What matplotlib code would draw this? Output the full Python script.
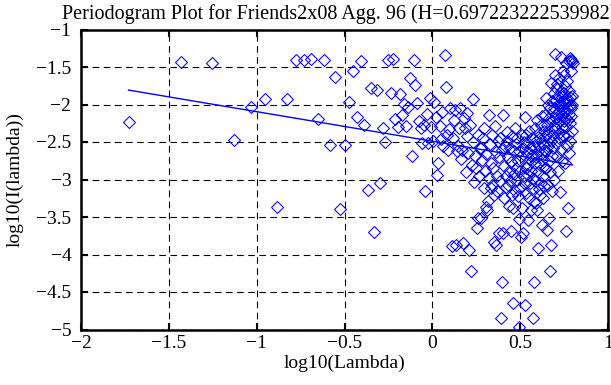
import numpy as np
import matplotlib
matplotlib.use("Agg")
import matplotlib.pyplot as plt

# ---- data ----
n_series = 337                      # series length parameter (lambda_k = 2*pi*k/n)
freq_index = np.arange(1, 338)       # Fourier frequency indices k

log_I = [
    -2.23, -1.43, -1.44, -2.47, -2.03, -1.93, -3.37, -1.92, -1.41, -1.41,
    -1.39, -2.19, -1.41, -2.54, -1.63, -3.39, -2.54, -1.96, -1.55, -2.17,
    -1.42, -2.27, -3.14, -1.78, -3.70, -1.80, -3.04, -2.31, -2.50, -1.40,
    -1.84, -1.39, -2.19, -2.30, -1.86, -2.14, -1.99, -2.29, -2.03, -1.65,
    -2.69, -1.41, -1.74, -1.98, -2.22, -2.31, -2.51, -2.27, -3.15, -2.12,
    -2.51, -1.91, -2.30, -2.48, -1.96, -2.16, -2.94, -2.78, -2.29, -2.46,
    -2.10, -2.55, -1.34, -1.77, -2.40, -2.60, -2.33, -2.05, -3.89, -2.45,
    -2.20, -2.07, -3.87, -2.62, -2.55, -2.31, -2.05, -2.72, -2.60, -3.85,
    -2.18, -2.31, -2.90, -2.11, -2.42, -2.65, -3.94, -2.28, -4.22, -2.80,
    -2.50, -1.93, -3.03, -2.68, -2.85, -3.65, -2.40, -3.51, -2.95, -2.58,
    -2.58, -3.51, -2.74, -2.45, -3.11, -2.31, -2.89, -3.36, -2.66, -3.40,
    -3.29, -2.14, -2.98, -2.52, -3.11, -2.78, -2.40, -3.07, -2.85, -3.20,
    -3.83, -2.29, -3.87, -2.63, -2.95, -3.15, -2.48, -3.71, -2.70, -3.02,
    -2.45, -4.84, -2.60, -4.36, -3.71, -2.14, -2.82, -3.25, -2.55, -2.95,
    -3.10, -2.49, -2.36, -3.07, -2.70, -3.35, -2.88, -3.02, -2.58, -3.69,
    -2.77, -3.20, -2.42, -4.65, -3.38, -2.92, -2.62, -3.15, -2.31, -2.85,
    -2.53, -3.00, -2.45, -3.22, -2.76, -4.97, -2.62, -3.53, -2.89, -3.11,
    -2.68, -3.76, -2.40, -3.38, -2.95, -2.58, -3.71, -3.05, -2.50, -4.67,
    -2.16, -2.84, -2.40, -3.18, -2.64, -2.93, -3.54, -2.51, -2.80, -3.25,
    -2.35, -3.05, -2.72, -2.58, -3.40, -2.88, -2.45, -3.12, -2.67, -2.98,
    -4.84, -2.55, -3.30, -4.36, -2.78, -2.31, -3.02, -2.49, -2.70, -3.31,
    -2.20, -3.40, -2.62, -2.90, -3.91, -2.38, -3.12, -2.55, -2.80, -3.20,
    -2.45, -2.66, -3.05, -2.28, -3.60, -2.74, -2.15, -2.95, -3.25, -2.52,
    -2.35, -3.08, -2.60, -2.85, -2.42, -2.14, -2.62, -1.91, -2.85, -3.67,
    -2.27, -2.40, -3.07, -2.00, -2.55, -2.75, -2.18, -3.51, -2.35, -4.22,
    -2.05, -2.90, -1.71, -2.48, -3.87, -2.22, -2.68, -1.95, -3.15, -2.40,
    -2.10, -2.58, -1.85, -3.00, -2.30, -2.05, -1.60, -2.31, -1.33, -2.18,
    -1.78, -2.51, -1.94, -2.12, -2.69, -1.72, -2.25, -2.00, -2.89, -1.88,
    -2.38, -2.08, -1.65, -2.45, -1.98, -3.16, -2.20, -1.82, -2.60, -2.02,
    -1.36, -2.30, -1.90, -2.15, -2.75, -1.55, -2.05, -2.40, -1.95, -2.22,
    -1.85, -2.42, -1.60, -2.10, -1.98, -2.78, -1.75, -3.69, -2.18, -1.45,
    -2.30, -1.91, -2.05, -2.55, -1.68, -2.20, -3.38, -1.95, -2.40, -1.42,
    -2.12, -1.82, -2.65, -2.00, -1.38, -2.25, -1.90, -2.48, -1.55, -2.15,
    -1.40, -2.05, -1.88, -2.35, -1.42, -2.00, -1.45,
]

fit_slope = -0.3945
fit_intercept = -2.49
H_value = "0.697223222539982"

title = f"Periodogram Plot for Friends2x08 Agg. 96 (H={H_value})"
xlabel = "log10(Lambda)"
ylabel = "log10(I(lambda))"
xticks = [-2, -1.5, -1, -0.5, 0, 0.5, 1]
yticks = [-1, -1.5, -2, -2.5, -3, -3.5, -4, -4.5, -5]

# ---- derived ----
lam = 2 * np.pi * freq_index / n_series
log_lam = np.log10(lam)
fit_x = np.array([log_lam.min(), log_lam.max()])
fit_y = fit_intercept + fit_slope * fit_x

plt.rcParams['font.family'] = ['Liberation Serif', 'DejaVu Serif']
plt.rcParams['axes.unicode_minus'] = True

FS = 14

fig = plt.figure(figsize=(6.11, 3.85), dpi=100)
ax = fig.add_axes([81/611, 1-329.5/385, (608-81)/611, 300/385])

blue = (0, 0, 1)
ax.plot(log_lam, log_I, linestyle='none', marker='D', markersize=6.6,
        markerfacecolor='none', markeredgecolor=blue, markeredgewidth=0.75, zorder=3)
ax.plot(fit_x, fit_y, color=blue, linewidth=1.0, zorder=4)

ax.set_xlim(-2, 1)
ax.set_ylim(-5, -1)
ax.set_xticks(xticks)
ax.set_yticks(yticks)
ax.set_xticklabels([f"{t:g}".replace('-', '\u2212') for t in xticks])
ax.set_yticklabels([f"{t:g}".replace('-', '\u2212') for t in yticks])
ax.tick_params(direction='in', length=5, width=1.5, top=True, right=True,
               labelsize=FS, colors='black')
ax.tick_params(axis='x', pad=4)
ax.tick_params(axis='y', pad=7)
ax.grid(True, color='black', linestyle=(0, (6, 4)), linewidth=0.8)
ax.set_axisbelow(True)
for s in ax.spines.values():
    s.set_linewidth(1.8)
    s.set_color('black')

ax.set_xlabel(xlabel, fontsize=FS, labelpad=2)
ax.set_ylabel(ylabel, fontsize=FS, labelpad=9)
fig.text(339/611, 1-14/385, title, ha='center', va='center', fontsize=14.5)

fig.savefig("out.png", dpi=100)
